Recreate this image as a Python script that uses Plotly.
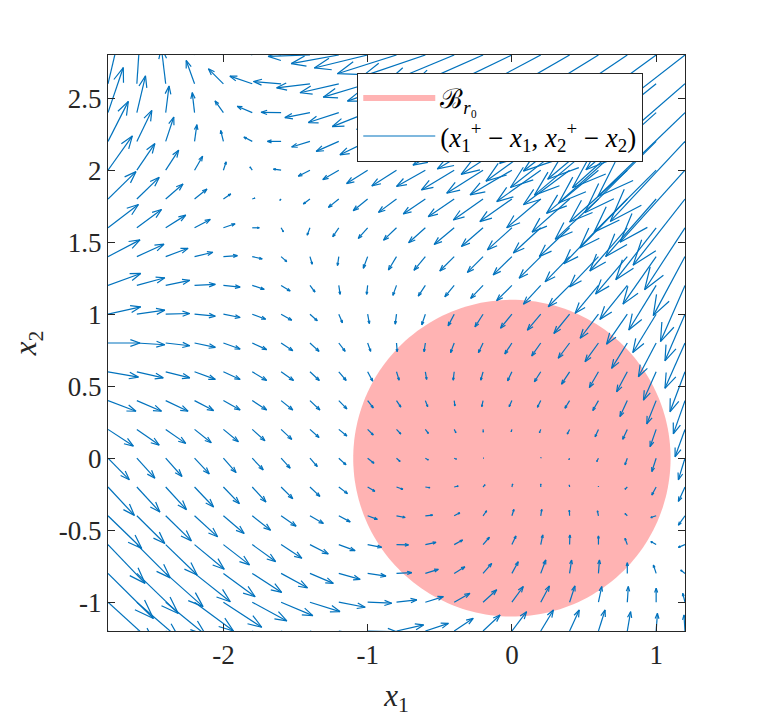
import numpy as np
import plotly.graph_objects as go
import plotly.figure_factory as ff

# grid of arrow tails
x_grid = [-2.8, -2.6, -2.4, -2.2, -2.0, -1.8, -1.6, -1.4, -1.2, -1.0, -0.8,
          -0.6, -0.4, -0.2, 0.0, 0.2, 0.4, 0.6, 0.8, 1.0, 1.2]
y_grid = [2.8, 2.6, 2.4, 2.2, 2.0, 1.8, 1.6, 1.4, 1.2, 1.0, 0.8,
          0.6, 0.4, 0.2, 0.0, -0.2, -0.4, -0.6, -0.8, -1.0, -1.2]

# drawn arrow components, one row per y_grid value (top to bottom)
U = [
    [0.06, -0.01, -0.06, -0.10, -0.14, -0.18, -0.23, -0.29, -0.33, -0.37, -0.41, -0.44, -0.48, -0.52, -0.56, -0.60, -0.64, -0.68, -0.71, -0.74, -0.77],
    [0.08, 0.02, -0.03, -0.058, -0.104, -0.155, -0.192, -0.231, -0.269, -0.308, -0.34, -0.38, -0.42, -0.454, -0.49, -0.523, -0.562, -0.598, -0.631, -0.661, -0.687],
    [0.106, 0.06, 0.023, -0.016, -0.058, -0.104, -0.139, -0.174, -0.211, -0.245, -0.276, -0.313, -0.347, -0.385, -0.42, -0.448, -0.485, -0.52, -0.552, -0.58, -0.604],
    [0.141, 0.104, 0.056, 0.016, -0.019, -0.058, -0.095, -0.127, -0.157, -0.192, -0.216, -0.249, -0.286, -0.317, -0.352, -0.38, -0.41, -0.444, -0.476, -0.495, -0.518],
    [0.169, 0.125, 0.09, 0.056, 0.019, -0.016, -0.053, -0.081, -0.111, -0.146, -0.171, -0.2, -0.227, -0.252, -0.29, -0.305, -0.32, -0.36, -0.4, -0.43, -0.45],
    [0.194, 0.155, 0.12, 0.086, 0.051, 0.019, -0.009, -0.046, -0.072, -0.1, -0.125, -0.153, -0.18, -0.206, -0.222, -0.236, -0.26, -0.3, -0.33, -0.35, -0.36],
    [0.211, 0.171, 0.139, 0.109, 0.081, 0.049, 0.016, -0.019, -0.042, -0.065, -0.09, -0.116, -0.139, -0.15, -0.17, -0.19, -0.21, -0.24, -0.26, -0.28, -0.28],
    [0.222, 0.188, 0.155, 0.127, 0.097, 0.069, 0.039, 0.016, -0.009, -0.03, -0.056, -0.079, -0.1, -0.109, -0.13, -0.15, -0.17, -0.2, -0.22, -0.23, -0.22],
    [0.227, 0.194, 0.167, 0.144, 0.116, 0.083, 0.063, 0.035, 0.009, -0.007, -0.025, -0.049, -0.065, -0.086, -0.106, -0.12, -0.148, -0.162, -0.19, -0.19, -0.17],
    [0.227, 0.194, 0.167, 0.144, 0.116, 0.093, 0.074, 0.051, 0.025, 0.012, -0.009, -0.025, -0.042, -0.056, -0.079, -0.093, -0.109, -0.127, -0.144, -0.162, -0.139],
    [0.222, 0.194, 0.167, 0.144, 0.116, 0.1, 0.081, 0.063, 0.044, 0.021, 0.005, -0.009, -0.025, -0.032, -0.049, -0.063, -0.079, -0.093, -0.109, -0.123, -0.139],
    [0.211, 0.183, 0.167, 0.144, 0.116, 0.1, 0.086, 0.065, 0.051, 0.035, 0.018, 0.009, -0.007, -0.016, -0.03, -0.044, -0.056, -0.063, -0.074, -0.088, -0.104],
    [0.194, 0.171, 0.155, 0.132, 0.116, 0.1, 0.081, 0.069, 0.056, 0.039, 0.03, 0.016, 0.005, -0.009, -0.019, -0.023, -0.032, -0.039, -0.051, -0.065, -0.081],
    [0.176, 0.155, 0.139, 0.116, 0.104, 0.088, 0.074, 0.063, 0.056, 0.039, 0.03, 0.021, 0.012, 0.002, -0.005, -0.009, -0.016, -0.023, -0.032, -0.042, -0.069],
    [0.148, 0.125, 0.113, 0.102, 0.088, 0.076, 0.063, 0.051, 0.05, 0.044, 0.025, 0.021, 0.016, 0.005, 0.0, 0.002, -0.005, -0.012, -0.016, -0.03, -0.046],
    [0.183, 0.16, 0.144, 0.132, 0.111, 0.095, 0.081, 0.069, 0.06, 0.05, 0.044, 0.032, 0.028, 0.014, 0.005, 0.0, -0.002, 0.0, -0.016, -0.03, -0.046],
    [0.234, 0.194, 0.178, 0.16, 0.144, 0.127, 0.104, 0.093, 0.079, 0.067, 0.06, 0.051, 0.039, 0.025, 0.014, 0.007, -0.002, -0.007, -0.016, -0.037, -0.046],
    [0.257, 0.231, 0.218, 0.206, 0.181, 0.162, 0.144, 0.127, 0.113, 0.097, 0.083, 0.074, 0.058, 0.044, 0.028, 0.014, 0.002, 0.0, -0.016, -0.037, -0.046],
    [0.315, 0.287, 0.259, 0.248, 0.22, 0.204, 0.183, 0.162, 0.148, 0.127, 0.106, 0.09, 0.074, 0.06, 0.044, 0.035, 0.014, 0.007, 0.0, -0.019, -0.03],
    [0.34, 0.3, 0.28, 0.27, 0.266, 0.24, 0.22, 0.208, 0.183, 0.167, 0.141, 0.125, 0.109, 0.095, 0.079, 0.06, 0.037, 0.023, 0.007, 0.0, -0.016],
    [0.37, 0.34, 0.32, 0.31, 0.30, 0.28, 0.26, 0.24, 0.22, 0.2, 0.188, 0.16, 0.132, 0.118, 0.102, 0.088, 0.067, 0.046, 0.023, 0.009, -0.007],
]
V = [
    [0.37, 0.33, 0.29, 0.22, 0.15, 0.09, 0.04, -0.01, -0.06, -0.09, -0.13, -0.15, -0.20, -0.23, -0.27, -0.32, -0.37, -0.42, -0.48, -0.54, -0.60],
    [0.34, 0.30, 0.25, 0.162, 0.104, 0.053, 0.016, -0.028, -0.062, -0.093, -0.12, -0.154, -0.187, -0.232, -0.271, -0.314, -0.365, -0.419, -0.475, -0.535, -0.597],
    [0.313, 0.255, 0.185, 0.139, 0.081, 0.044, 0.002, -0.035, -0.069, -0.097, -0.117, -0.146, -0.177, -0.213, -0.252, -0.302, -0.353, -0.406, -0.463, -0.522, -0.583],
    [0.278, 0.215, 0.169, 0.116, 0.076, 0.030, 0.0, -0.039, -0.069, -0.093, -0.115, -0.138, -0.165, -0.191, -0.229, -0.276, -0.32, -0.373, -0.428, -0.495, -0.556],
    [0.238, 0.185, 0.139, 0.097, 0.058, 0.023, 0.007, -0.042, -0.065, -0.093, -0.109, -0.113, -0.137, -0.16, -0.171, -0.218, -0.24, -0.3, -0.36, -0.43, -0.5],
    [0.19, 0.15, 0.104, 0.069, 0.035, 0.007, -0.01, -0.035, -0.058, -0.081, -0.093, -0.104, -0.123, -0.146, -0.157, -0.2, -0.23, -0.28, -0.34, -0.4, -0.46],
    [0.162, 0.127, 0.088, 0.058, 0.028, 0.0, -0.028, -0.051, -0.062, -0.074, -0.086, -0.104, -0.116, -0.13, -0.153, -0.175, -0.2, -0.25, -0.3, -0.36, -0.43],
    [0.116, 0.086, 0.058, 0.03, 0.007, -0.016, -0.035, -0.053, -0.062, -0.081, -0.093, -0.095, -0.1, -0.11, -0.127, -0.15, -0.175, -0.21, -0.26, -0.33, -0.41],
    [0.083, 0.053, 0.035, 0.007, -0.012, -0.028, -0.039, -0.046, -0.062, -0.062, -0.069, -0.074, -0.079, -0.09, -0.106, -0.13, -0.148, -0.194, -0.236, -0.31, -0.39],
    [0.051, 0.028, 0.005, -0.014, -0.023, -0.035, -0.042, -0.046, -0.06, -0.065, -0.069, -0.074, -0.081, -0.088, -0.097, -0.111, -0.134, -0.167, -0.208, -0.266, -0.324],
    [0.0, -0.012, -0.019, -0.03, -0.042, -0.046, -0.053, -0.058, -0.058, -0.058, -0.06, -0.06, -0.067, -0.067, -0.076, -0.09, -0.106, -0.13, -0.176, -0.234, -0.315],
    [-0.037, -0.042, -0.042, -0.053, -0.053, -0.06, -0.06, -0.06, -0.06, -0.065, -0.058, -0.053, -0.058, -0.058, -0.063, -0.069, -0.086, -0.109, -0.139, -0.197, -0.278],
    [-0.074, -0.074, -0.074, -0.069, -0.065, -0.065, -0.065, -0.065, -0.058, -0.051, -0.045, -0.042, -0.037, -0.042, -0.042, -0.046, -0.053, -0.069, -0.111, -0.162, -0.231],
    [-0.116, -0.109, -0.097, -0.093, -0.086, -0.079, -0.069, -0.056, -0.046, -0.039, -0.032, -0.028, -0.023, -0.019, -0.016, -0.023, -0.032, -0.051, -0.069, -0.12, -0.19],
    [-0.15, -0.139, -0.127, -0.109, -0.1, -0.081, -0.069, -0.058, -0.046, -0.035, -0.023, -0.012, -0.007, 0.0, 0.0, 0.005, -0.01, -0.023, -0.046, -0.093, -0.15],
    [-0.197, -0.174, -0.157, -0.139, -0.116, -0.104, -0.081, -0.065, -0.046, -0.03, -0.016, -0.005, 0.007, 0.016, 0.021, 0.021, 0.014, 0.005, -0.016, -0.056, -0.1],
    [-0.227, -0.192, -0.174, -0.146, -0.123, -0.1, -0.072, -0.053, -0.042, -0.025, -0.012, 0.005, 0.021, 0.035, 0.044, 0.044, 0.039, 0.035, 0.016, -0.012, -0.065],
    [-0.269, -0.231, -0.211, -0.171, -0.141, -0.118, -0.095, -0.065, -0.042, -0.019, -0.002, 0.016, 0.032, 0.051, 0.06, 0.067, 0.067, 0.06, 0.044, 0.021, -0.019],
    [-0.313, -0.278, -0.231, -0.197, -0.162, -0.132, -0.1, -0.069, -0.042, -0.019, 0.005, 0.028, 0.046, 0.069, 0.081, 0.093, 0.093, 0.093, 0.074, 0.058, 0.023],
    [-0.31, -0.26, -0.23, -0.2, -0.174, -0.13, -0.093, -0.065, -0.035, -0.007, 0.016, 0.039, 0.062, 0.086, 0.109, 0.113, 0.113, 0.109, 0.109, 0.097, 0.062],
    [-0.36, -0.31, -0.27, -0.24, -0.2, -0.16, -0.12, -0.08, -0.04, -0.005, 0.042, 0.053, 0.088, 0.111, 0.134, 0.146, 0.146, 0.146, 0.134, 0.123, 0.111],
]

r0 = 1.1
ball_center = [0.0, 0.0]

x_ticks = [-2, -1, 0, 1]
x_ticktext = ['-2', '-1', '0', '1']
y_ticks = [-1, -0.5, 0, 0.5, 1, 1.5, 2, 2.5]
y_ticktext = ['-1', '-0.5', '0', '0.5', '1', '1.5', '2', '2.5']

blue = '#0072BD'
pink = '#FFB3B3'
axcol = '#262626'
serif = 'Liberation Serif, Times New Roman, serif'

X, Y = np.meshgrid(x_grid, y_grid)
quiver = ff.create_quiver(X.ravel().tolist(), Y.ravel().tolist(),
                          np.array(U).ravel().tolist(), np.array(V).ravel().tolist(),
                          scale=1, arrow_scale=0.32, angle=0.34,
                          line=dict(color=blue, width=1.2))
arrows = quiver.data[0]
arrows.name = ('(<i>x</i><sub>1</sub><sup>+</sup> \u2212 <i>x</i><sub>1</sub>, '
               '<i>x</i><sub>2</sub><sup>+</sup> \u2212 <i>x</i><sub>2</sub>)')
arrows.showlegend = True
arrows.hoverinfo = 'skip'

t = np.linspace(0, 2 * np.pi, 200)
fig = go.Figure()
fig.add_trace(go.Scatter(
    x=ball_center[0] + r0 * np.cos(t), y=ball_center[1] + r0 * np.sin(t),
    mode='none', fill='toself', fillcolor=pink,
    name='\u212C<sub><i>r</i>\u2080</sub>', hoverinfo='skip'))
fig.add_trace(arrows)

axis_common = dict(showline=True, mirror='ticks', linecolor=axcol, linewidth=1,
                   ticks='inside', ticklen=7, tickcolor=axcol,
                   showgrid=False, zeroline=False,
                   tickfont=dict(family=serif, size=27, color=axcol))

# the page body adds an 8px offset, so margins are shifted to keep the plot box in place
fig.update_layout(
    width=757, height=720,
    paper_bgcolor='white', plot_bgcolor='white',
    margin=dict(l=100, r=80, t=47, b=97),
    xaxis=dict(range=[-2.8, 1.2], tickvals=x_ticks, ticktext=x_ticktext,
               title=dict(text='<i>x</i><sub>1</sub>', font=dict(family=serif, size=31, color=axcol), standoff=14),
               **axis_common),
    yaxis=dict(range=[-1.2, 2.8], tickvals=y_ticks, ticktext=y_ticktext,
               title=dict(text='<i>x</i><sub>2</sub>', font=dict(family=serif, size=31, color=axcol), standoff=12),
               **axis_common),
    legend=dict(x=0.432, y=0.969, xanchor='left', yanchor='top',
                bgcolor='white', bordercolor=axcol, borderwidth=1,
                font=dict(family=serif, size=27, color='black'),
                itemwidth=72, tracegroupgap=0),
    showlegend=True,
)

fig.write_html("out.html")
